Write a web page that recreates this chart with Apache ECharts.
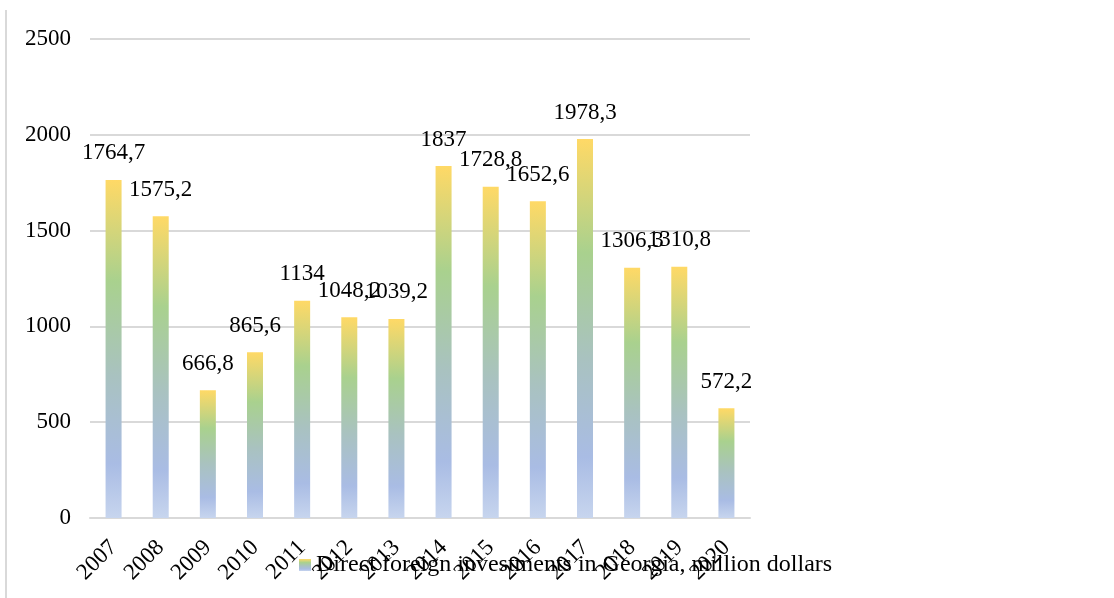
<!DOCTYPE html>
<html>
<head>
<meta charset="utf-8">
<script src="https://cdn.jsdelivr.net/npm/echarts@6/dist/echarts.min.js"></script>
<style>html,body{margin:0;padding:0;background:#fff}#c{width:1114px;height:598px}</style>
</head>
<body>
<div id="c"></div>
<script>
const years = ['2007','2008','2009','2010','2011','2012','2013','2014','2015','2016','2017','2018','2019','2020'];
const fdiValues = [1764.7, 1575.2, 666.8, 865.6, 1134, 1048.2, 1039.2, 1837, 1728.8, 1652.6, 1978.3, 1306.3, 1310.8, 572.2];
const seriesName = 'Direct foreign investments in Georgia, million dollars';
const yTicks = [0, 500, 1000, 1500, 2000, 2500];

const FONT = '"Liberation Serif", "Times New Roman", serif';
const grad = new echarts.graphic.LinearGradient(0, 0, 0, 1, [
  {offset: 0, color: '#FFD966'},
  {offset: 0.3, color: '#A9D18E'},
  {offset: 0.58, color: '#A9C2C0'},
  {offset: 0.84, color: '#A9BCE4'},
  {offset: 1, color: '#C7D5EE'}
]);

const chart = echarts.init(document.getElementById('c'), null, {renderer: 'canvas'});
chart.setOption({
  animation: false,
  backgroundColor: '#fff',
  textStyle: {fontFamily: FONT},
  graphic: [{
    type: 'line', shape: {x1: 6, y1: 10, x2: 6, y2: 598},
    style: {stroke: '#d9d9d9', lineWidth: 2}
  }],
  grid: {left: 90, right: 364, top: 39, bottom: 80, containLabel: false},
  legend: {
    left: 299, top: 553, padding: 0,
    itemWidth: 12, itemHeight: 12, itemGap: 4,
    icon: 'rect',
    textStyle: {fontFamily: FONT, fontSize: 24, color: '#000', padding: [0,0,0,0]},
    data: [seriesName]
  },
  xAxis: {
    type: 'category',
    data: years,
    axisLine: {show: true, lineStyle: {color: '#d9d9d9', width: 2}},
    axisTick: {show: false},
    axisLabel: {rotate: 45, margin: 26, fontFamily: FONT, fontSize: 23, color: '#000', interval: 0}
  },
  yAxis: {
    type: 'value',
    min: yTicks[0], max: yTicks[yTicks.length - 1], interval: 500,
    axisLine: {show: false},
    axisTick: {show: false},
    splitLine: {lineStyle: {color: '#d9d9d9', width: 2}},
    axisLabel: {margin: 19, fontFamily: FONT, fontSize: 23, color: '#000', formatter: v => String(v)}
  },
  series: [{
    name: seriesName,
    type: 'bar',
    data: fdiValues,
    barWidth: 16,
    itemStyle: {color: grad},
    label: {
      show: true, position: 'top', distance: 15,
      fontFamily: FONT, fontSize: 23, color: '#000',
      formatter: p => String(p.value).replace('.', ',')
    }
  }]
});
</script>
</body>
</html>
